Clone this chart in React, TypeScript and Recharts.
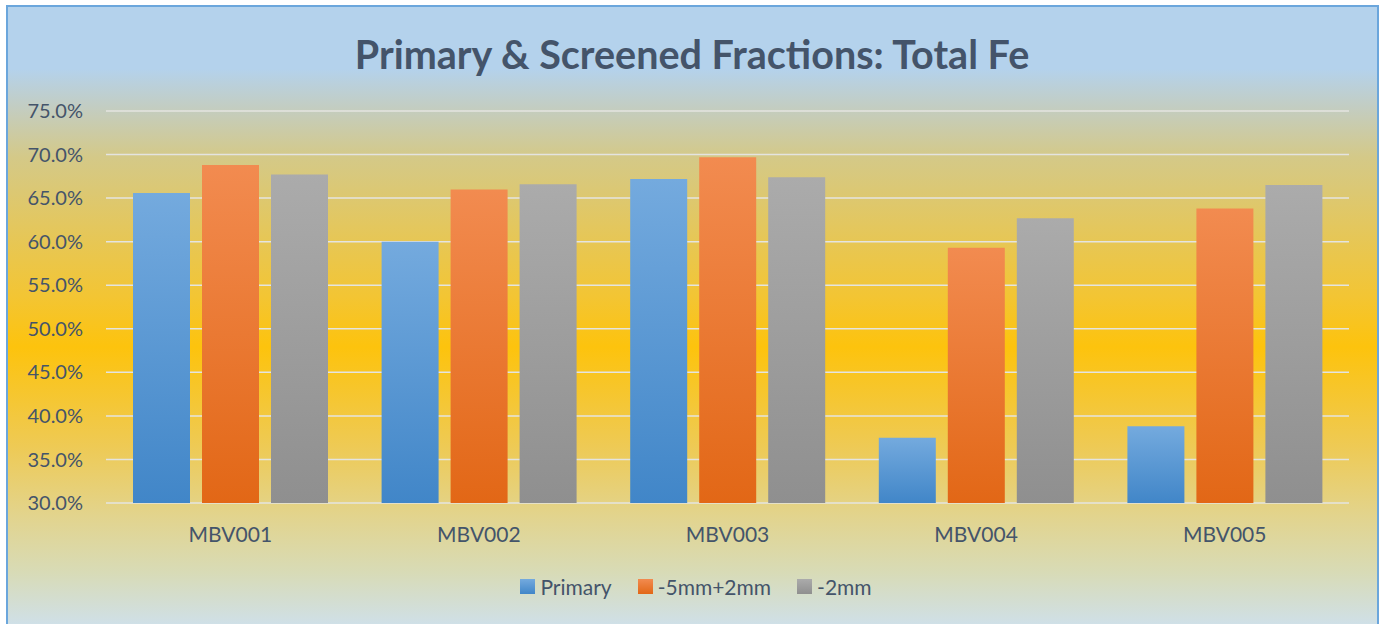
import { BarChart, Bar, XAxis, YAxis, CartesianGrid } from 'recharts';

const SAMPLES = ['MBV001', 'MBV002', 'MBV003', 'MBV004', 'MBV005'];
const PRIMARY = [0.656, 0.6, 0.672, 0.375, 0.388];
const COARSE = [0.688, 0.66, 0.697, 0.593, 0.638];
const FINE = [0.677, 0.666, 0.674, 0.627, 0.665];
const Y_TICKS = [0.3, 0.35, 0.4, 0.45, 0.5, 0.55, 0.6, 0.65, 0.7, 0.75];

const SERIES = [
  { key: 'primary', name: 'Primary', top: '#74aade', bottom: '#4186c8' },
  { key: 'coarse', name: '-5mm+2mm', top: '#f28b50', bottom: '#e26716' },
  { key: 'fine', name: '-2mm', top: '#ababab', bottom: '#8f8f8f' },
];

const data = SAMPLES.map((name, i) => ({
  name,
  primary: PRIMARY[i],
  coarse: COARSE[i],
  fine: FINE[i],
}));

const TEXT = '#44546a';
const FONT = 'Lato, "Open Sans", sans-serif';

export default function App() {
  return (
    <div
      style={{
        position: 'absolute',
        left: 0,
        top: 0,
        width: 1384,
        height: 624,
        overflow: 'hidden',
        fontFamily: FONT,
      }}
    >
      <div
        style={{
          position: 'absolute',
          left: 6,
          top: 5,
          width: 1373,
          height: 700,
          boxSizing: 'border-box',
          border: '2px solid #6ba6dc',
          background:
            'linear-gradient(to bottom, #b4d2ec 0px, #b4d2ec 62px, #c3cdc2 100px, #d4c988 150px, #f3c533 290px, #fdc30d 340px, #eeca55 440px, #e2d48e 510px, #d8dbb6 565px, #cfe0ea 620px, #cfe0ea 700px)',
        }}
      />
      <div
        style={{
          position: 'absolute',
          left: 0,
          top: 30,
          width: 1384,
          textAlign: 'center',
          fontSize: 39.5,
          fontWeight: 700,
          color: TEXT,
        }}
      >
        Primary &amp; Screened Fractions: Total Fe
      </div>
      <div style={{ position: 'absolute', left: 0, top: 0 }}>
        <BarChart
          width={1384}
          height={624}
          data={data}
          margin={{ top: 111, right: 35, bottom: 91, left: 16 }}
          barCategoryGap={27}
          barGap={12}
        >
          <defs>
            {SERIES.map((s) => (
              <linearGradient key={s.key} id={`g-${s.key}`} x1="0" y1="0" x2="0" y2="1">
                <stop offset="0%" stopColor={s.top} />
                <stop offset="100%" stopColor={s.bottom} />
              </linearGradient>
            ))}
          </defs>
          <CartesianGrid vertical={false} stroke="#e4e4e0" strokeWidth={1.5} />
          <XAxis
            dataKey="name"
            height={30}
            axisLine={false}
            tickLine={false}
            tickMargin={18}
            tick={{ fill: TEXT, fontSize: 21, fontFamily: FONT }}
          />
          <YAxis
            domain={[0.3, 0.75]}
            ticks={Y_TICKS}
            width={90}
            axisLine={false}
            tickLine={false}
            tickMargin={17}
            tickFormatter={(v: number) => `${(v * 100).toFixed(1)}%`}
            tick={{ fill: TEXT, fontSize: 20, fontFamily: FONT }}
          />
          {SERIES.map((s) => (
            <Bar
              key={s.key}
              dataKey={s.key}
              name={s.name}
              fill={`url(#g-${s.key})`}
              isAnimationActive={false}
            />
          ))}
        </BarChart>
      </div>
      {/* legend kept as html so it doesn't eat into the plot area */}
      <div
        style={{
          position: 'absolute',
          left: 0,
          top: 574,
          width: 1392,
          display: 'flex',
          justifyContent: 'center',
          alignItems: 'center',
          fontSize: 21,
          color: TEXT,
        }}
      >
        {SERIES.map((s) => (
          <div key={s.key} style={{ display: 'flex', alignItems: 'center', margin: '0 13px' }}>
            <span
              style={{
                display: 'inline-block',
                width: 15,
                height: 15,
                marginRight: 5,
                background: `linear-gradient(to bottom, ${s.top}, ${s.bottom})`,
              }}
            />
            <span>{s.name}</span>
          </div>
        ))}
      </div>
    </div>
  );
}
